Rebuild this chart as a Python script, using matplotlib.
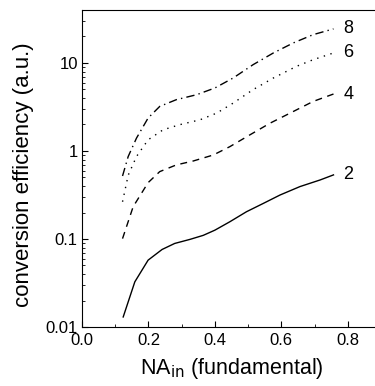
import matplotlib
matplotlib.use("Agg")
import matplotlib.pyplot as plt
from matplotlib.ticker import FixedLocator, LogLocator, NullFormatter, MultipleLocator

plt.rcParams['font.family'] = ['Liberation Sans', 'DejaVu Sans']

# curve "2" (solid)
x2 = [0.124, 0.159, 0.199, 0.241, 0.279, 0.325, 0.365, 0.40, 0.445, 0.495, 0.546, 0.596, 0.656, 0.717, 0.757]
y2 = [0.013, 0.0326, 0.0575, 0.076, 0.089, 0.099, 0.11, 0.126, 0.157, 0.204, 0.254, 0.316, 0.394, 0.469, 0.535]
# curve "4" (dashed)
x4 = [0.122, 0.154, 0.199, 0.234, 0.284, 0.335, 0.395, 0.445, 0.506, 0.566, 0.626, 0.696, 0.757]
y4 = [0.101, 0.233, 0.437, 0.583, 0.695, 0.77, 0.90, 1.12, 1.53, 2.07, 2.69, 3.66, 4.44]
# curve "6" (dotted)
x6 = [0.122, 0.139, 0.164, 0.199, 0.244, 0.294, 0.355, 0.405, 0.455, 0.515, 0.576, 0.646, 0.696, 0.757]
y6 = [0.265, 0.53, 0.865, 1.34, 1.74, 1.99, 2.26, 2.69, 3.5, 4.98, 6.75, 9.17, 10.9, 13.0]
# curve "8" (dash-dot)
x8 = [0.122, 0.139, 0.164, 0.199, 0.234, 0.284, 0.345, 0.40, 0.455, 0.515, 0.576, 0.636, 0.696, 0.757]
y8 = [0.52, 0.865, 1.4, 2.37, 3.21, 3.83, 4.36, 5.2, 6.75, 9.57, 13.0, 16.9, 21.0, 24.4]

curve_labels = ['2', '4', '6', '8']
xticks = [0.0, 0.2, 0.4, 0.6, 0.8]
yticks = [0.01, 0.1, 1, 10]
ytick_labels = ['0.01', '0.1', '1', '10']

fig = plt.figure(figsize=(3.75, 3.86), dpi=100)
ax = fig.add_axes([82/375, 59/386, 299/375, 317/386])

ax.plot(x2, y2, color='black', lw=1.0, ls='-')
ax.plot(x4, y4, color='black', lw=1.0, ls=(0, (5, 4)))
ax.plot(x6, y6, color='black', lw=1.0, ls=(0, (1, 4)))
ax.plot(x8, y8, color='black', lw=1.0, ls=(0, (6, 3, 1, 3)))

for xs, ys, lab in zip([x2, x4, x6, x8], [y2, y4, y6, y8], curve_labels):
    ax.annotate(lab, (xs[-1], ys[-1]), xytext=(7, 0), textcoords='offset points',
                fontsize=13, va='center', ha='left')

ax.set_yscale('log')
ax.set_xlim(0, 0.9)
ax.set_ylim(0.01, 40)
ax.spines['right'].set_visible(False)

ax.xaxis.set_major_locator(FixedLocator(xticks))
ax.set_xticklabels(['%.1f' % v for v in xticks])
ax.xaxis.set_minor_locator(MultipleLocator(0.1))
ax.yaxis.set_major_locator(FixedLocator(yticks))
ax.set_yticklabels(ytick_labels)
ax.yaxis.set_minor_locator(LogLocator(base=10, subs=range(2, 10)))
ax.yaxis.set_minor_formatter(NullFormatter())

ax.tick_params(which='both', direction='in', labelsize=12)
ax.tick_params(axis='y', pad=3)
ax.tick_params(axis='x', pad=4)
ax.tick_params(which='major', length=4)
ax.tick_params(which='minor', length=2)

ax.set_xlabel('NA$_{\\rm in}$ (fundamental)', fontsize=15.5, labelpad=6)
ax.set_ylabel('conversion efficiency (a.u.)', fontsize=16)
ax.yaxis.set_label_coords(-0.16, 0.48)

fig.savefig('out.png', dpi=100)
